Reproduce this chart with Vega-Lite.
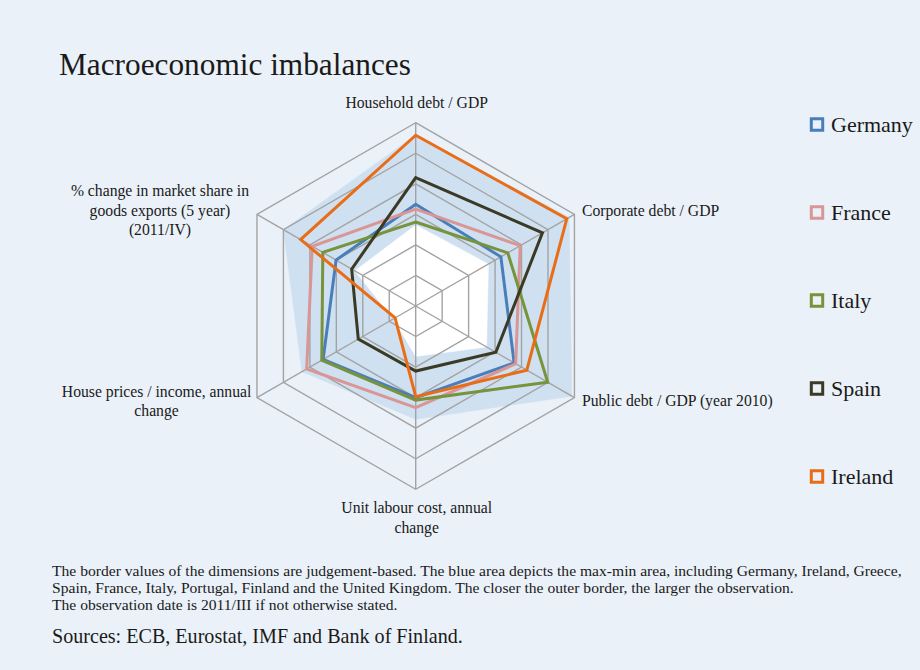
{
  "$schema": "https://vega.github.io/schema/vega-lite/v6.json",
  "background": "#eaf1f8",
  "padding": {"left": 0, "right": 0, "top": 49, "bottom": 40},
  "config": {"view": {"stroke": null}, "font": "Liberation Serif", "concat": {"spacing": 0}, "legend": {"labelFont": "Liberation Serif"}},
  "title": {"text": "Macroeconomic imbalances", "anchor": "start", "frame": "group", "dx": 59, "fontSize": 31.3, "fontWeight": "normal", "font": "Liberation Serif", "color": "#1a1a1a", "offset": 10},
  "datasets": {
    "axes": [
      {"axis": 0, "label": "Household debt / GDP"},
      {"axis": 1, "label": "Corporate debt / GDP"},
      {"axis": 2, "label": "Public debt / GDP (year 2010)"},
      {"axis": 3, "label": "Unit labour cost, annual\nchange"},
      {"axis": 4, "label": "House prices / income, annual\nchange"},
      {"axis": 5, "label": "% change in market share in\ngoods exports (5 year)\n(2011/IV)"}
    ],
    "grid": [
      {"level": 1, "axis": 0}, {"level": 1, "axis": 1}, {"level": 1, "axis": 2}, {"level": 1, "axis": 3}, {"level": 1, "axis": 4}, {"level": 1, "axis": 5},
      {"level": 2, "axis": 0}, {"level": 2, "axis": 1}, {"level": 2, "axis": 2}, {"level": 2, "axis": 3}, {"level": 2, "axis": 4}, {"level": 2, "axis": 5},
      {"level": 3, "axis": 0}, {"level": 3, "axis": 1}, {"level": 3, "axis": 2}, {"level": 3, "axis": 3}, {"level": 3, "axis": 4}, {"level": 3, "axis": 5},
      {"level": 4, "axis": 0}, {"level": 4, "axis": 1}, {"level": 4, "axis": 2}, {"level": 4, "axis": 3}, {"level": 4, "axis": 4}, {"level": 4, "axis": 5},
      {"level": 5, "axis": 0}, {"level": 5, "axis": 1}, {"level": 5, "axis": 2}, {"level": 5, "axis": 3}, {"level": 5, "axis": 4}, {"level": 5, "axis": 5},
      {"level": 6, "axis": 0}, {"level": 6, "axis": 1}, {"level": 6, "axis": 2}, {"level": 6, "axis": 3}, {"level": 6, "axis": 4}, {"level": 6, "axis": 5}
    ],
    "range": [
      {"bound": "max", "axis": 0, "value": 5.6}, {"bound": "max", "axis": 1, "value": 5.8}, {"bound": "max", "axis": 2, "value": 5.9},
      {"bound": "max", "axis": 3, "value": 3.71}, {"bound": "max", "axis": 4, "value": 4.3}, {"bound": "max", "axis": 5, "value": 5.0},
      {"bound": "min", "axis": 0, "value": 2.65}, {"bound": "min", "axis": 1, "value": 2.75}, {"bound": "min", "axis": 2, "value": 2.68},
      {"bound": "min", "axis": 3, "value": 1.65}, {"bound": "min", "axis": 4, "value": 0.85}, {"bound": "min", "axis": 5, "value": 2.3}
    ],
    "series": [
      {"country": "Germany", "axis": 0, "value": 3.33}, {"country": "Germany", "axis": 1, "value": 3.22}, {"country": "Germany", "axis": 2, "value": 3.72},
      {"country": "Germany", "axis": 3, "value": 3.0}, {"country": "Germany", "axis": 4, "value": 3.5}, {"country": "Germany", "axis": 5, "value": 3.01},
      {"country": "France", "axis": 0, "value": 3.17}, {"country": "France", "axis": 1, "value": 3.95}, {"country": "France", "axis": 2, "value": 3.78},
      {"country": "France", "axis": 3, "value": 3.33}, {"country": "France", "axis": 4, "value": 4.12}, {"country": "France", "axis": 5, "value": 3.91},
      {"country": "Italy", "axis": 0, "value": 2.75}, {"country": "Italy", "axis": 1, "value": 3.48}, {"country": "Italy", "axis": 2, "value": 4.99},
      {"country": "Italy", "axis": 3, "value": 3.08}, {"country": "Italy", "axis": 4, "value": 3.55}, {"country": "Italy", "axis": 5, "value": 3.51},
      {"country": "Spain", "axis": 0, "value": 4.2}, {"country": "Spain", "axis": 1, "value": 4.79}, {"country": "Spain", "axis": 2, "value": 3.03},
      {"country": "Spain", "axis": 3, "value": 2.13}, {"country": "Spain", "axis": 4, "value": 2.17}, {"country": "Spain", "axis": 5, "value": 2.42},
      {"country": "Ireland", "axis": 0, "value": 5.59}, {"country": "Ireland", "axis": 1, "value": 5.71}, {"country": "Ireland", "axis": 2, "value": 4.2},
      {"country": "Ireland", "axis": 3, "value": 2.97}, {"country": "Ireland", "axis": 4, "value": 0.78}, {"country": "Ireland", "axis": 5, "value": 4.35}
    ]
  },
  "vconcat": [
    {
      "width": 920,
      "height": 465,
      "title": {
        "text": [
          "The border values of the dimensions are judgement-based. The blue area depicts the max-min area, including Germany, Ireland, Greece,",
          "Spain, France, Italy, Portugal, Finland and the United Kingdom. The closer the outer border, the larger the observation.",
          "The observation date is 2011/III if not otherwise stated."
        ],
        "subtitle": "Sources: ECB, Eurostat, IMF and Bank of Finland.",
        "orient": "bottom", "anchor": "start", "frame": "group", "dx": 52,
        "font": "Liberation Serif", "fontSize": 15.6, "fontWeight": "normal", "lineHeight": 17, "color": "#1a1a1a",
        "subtitleFont": "Liberation Serif", "subtitleFontSize": 20.1, "subtitleColor": "#1a1a1a", "subtitlePadding": 13,
        "offset": 8
      },
      "encoding": {
        "x": {"field": "px", "type": "quantitative", "axis": null, "scale": {"domain": [-13.607, 16.507], "nice": false, "zero": false}},
        "y": {"field": "py", "type": "quantitative", "axis": null, "scale": {"domain": [-8.183, 7.038], "nice": false, "zero": false}}
      },
      "layer": [
        {
          "data": {"name": "range"},
          "transform": [
            {"filter": "datum.bound == 'max'"},
            {"calculate": "datum.value * sin(datum.axis * PI / 3)", "as": "px"},
            {"calculate": "datum.value * cos(datum.axis * PI / 3)", "as": "py"}
          ],
          "mark": {"type": "line", "interpolate": "linear-closed", "fill": "#cfe0f1", "stroke": "#cfe0f1", "strokeWidth": 0.5},
          "encoding": {"order": {"field": "axis", "type": "quantitative"}}
        },
        {
          "data": {"name": "range"},
          "transform": [
            {"filter": "datum.bound == 'min'"},
            {"calculate": "datum.value * sin(datum.axis * PI / 3)", "as": "px"},
            {"calculate": "datum.value * cos(datum.axis * PI / 3)", "as": "py"}
          ],
          "mark": {"type": "line", "interpolate": "linear-closed", "fill": "#ffffff", "stroke": "#ffffff", "strokeWidth": 0.5},
          "encoding": {"order": {"field": "axis", "type": "quantitative"}}
        },
        {
          "data": {"name": "grid"},
          "transform": [
            {"calculate": "datum.level * sin(datum.axis * PI / 3)", "as": "px"},
            {"calculate": "datum.level * cos(datum.axis * PI / 3)", "as": "py"}
          ],
          "mark": {"type": "line", "interpolate": "linear-closed", "stroke": "#a3a3a3", "strokeWidth": 1.4},
          "encoding": {"detail": {"field": "level", "type": "nominal"}, "order": {"field": "axis", "type": "quantitative"}}
        },
        {
          "data": {"name": "axes"},
          "transform": [
            {"calculate": "6 * sin(datum.axis * PI / 3)", "as": "px"},
            {"calculate": "6 * cos(datum.axis * PI / 3)", "as": "py"}
          ],
          "mark": {"type": "rule", "stroke": "#a3a3a3", "strokeWidth": 1.4},
          "encoding": {"x2": {"datum": 0}, "y2": {"datum": 0}}
        },
        {
          "data": {"name": "series"},
          "transform": [
            {"calculate": "datum.value * sin(datum.axis * PI / 3)", "as": "px"},
            {"calculate": "datum.value * cos(datum.axis * PI / 3)", "as": "py"}
          ],
          "mark": {"type": "line", "interpolate": "linear-closed", "strokeWidth": 3, "strokeJoin": "miter"},
          "encoding": {
            "order": {"field": "axis", "type": "quantitative"},
            "color": {
              "field": "country", "type": "nominal",
              "scale": {"domain": ["Germany", "France", "Italy", "Spain", "Ireland"], "range": ["#4a7ebb", "#d99694", "#77933c", "#3b3a24", "#e96d17"]},
              "legend": {
                "orient": "none", "legendX": 806, "legendY": 22.5, "title": null,
                "symbolType": "square", "symbolSize": 130, "symbolStrokeWidth": 3, "symbolFillColor": "transparent",
                "labelFontSize": 22, "labelFont": "Liberation Serif", "labelColor": "#1a1a1a", "labelOffset": 3,
                "rowPadding": 64, "padding": 0
              }
            }
          }
        },
        {
          "data": {"name": "axes"},
          "transform": [
            {"filter": "datum.axis == 0"},
            {"calculate": "6 * sin(datum.axis * PI / 3)", "as": "px"},
            {"calculate": "6 * cos(datum.axis * PI / 3)", "as": "py"}
          ],
          "mark": {"type": "text", "align": "center", "baseline": "middle", "dx": 1, "dy": -19.5, "fontSize": 15.7, "font": "Liberation Serif", "color": "#1a1a1a", "lineBreak": "\n", "lineHeight": 19.5},
          "encoding": {"text": {"field": "label"}}
        },
        {
          "data": {"name": "axes"},
          "transform": [
            {"filter": "datum.axis == 1"},
            {"calculate": "6 * sin(datum.axis * PI / 3)", "as": "px"},
            {"calculate": "6 * cos(datum.axis * PI / 3)", "as": "py"}
          ],
          "mark": {"type": "text", "align": "left", "baseline": "middle", "dx": 7.5, "dy": -3, "fontSize": 15.7, "font": "Liberation Serif", "color": "#1a1a1a", "lineBreak": "\n", "lineHeight": 19.5},
          "encoding": {"text": {"field": "label"}}
        },
        {
          "data": {"name": "axes"},
          "transform": [
            {"filter": "datum.axis == 2"},
            {"calculate": "6 * sin(datum.axis * PI / 3)", "as": "px"},
            {"calculate": "6 * cos(datum.axis * PI / 3)", "as": "py"}
          ],
          "mark": {"type": "text", "align": "left", "baseline": "middle", "dx": 7.5, "dy": 3.5, "fontSize": 15.7, "font": "Liberation Serif", "color": "#1a1a1a", "lineBreak": "\n", "lineHeight": 19.5},
          "encoding": {"text": {"field": "label"}}
        },
        {
          "data": {"name": "axes"},
          "transform": [
            {"filter": "datum.axis == 3"},
            {"calculate": "6 * sin(datum.axis * PI / 3)", "as": "px"},
            {"calculate": "6 * cos(datum.axis * PI / 3)", "as": "py"}
          ],
          "mark": {"type": "text", "align": "center", "baseline": "middle", "dx": 1, "dy": 18.7, "fontSize": 15.7, "font": "Liberation Serif", "color": "#1a1a1a", "lineBreak": "\n", "lineHeight": 19.5},
          "encoding": {"text": {"field": "label"}}
        },
        {
          "data": {"name": "axes"},
          "transform": [
            {"filter": "datum.axis == 4"},
            {"calculate": "6 * sin(datum.axis * PI / 3)", "as": "px"},
            {"calculate": "6 * cos(datum.axis * PI / 3)", "as": "py"}
          ],
          "mark": {"type": "text", "align": "center", "baseline": "middle", "dx": -100.4, "dy": -5.7, "fontSize": 15.7, "font": "Liberation Serif", "color": "#1a1a1a", "lineBreak": "\n", "lineHeight": 19.5},
          "encoding": {"text": {"field": "label"}}
        },
        {
          "data": {"name": "axes"},
          "transform": [
            {"filter": "datum.axis == 5"},
            {"calculate": "6 * sin(datum.axis * PI / 3)", "as": "px"},
            {"calculate": "6 * cos(datum.axis * PI / 3)", "as": "py"}
          ],
          "mark": {"type": "text", "align": "center", "baseline": "middle", "dx": -97, "dy": -23.3, "fontSize": 15.7, "font": "Liberation Serif", "color": "#1a1a1a", "lineBreak": "\n", "lineHeight": 19.5},
          "encoding": {"text": {"field": "label"}}
        }
      ]
    }
  ]
}
